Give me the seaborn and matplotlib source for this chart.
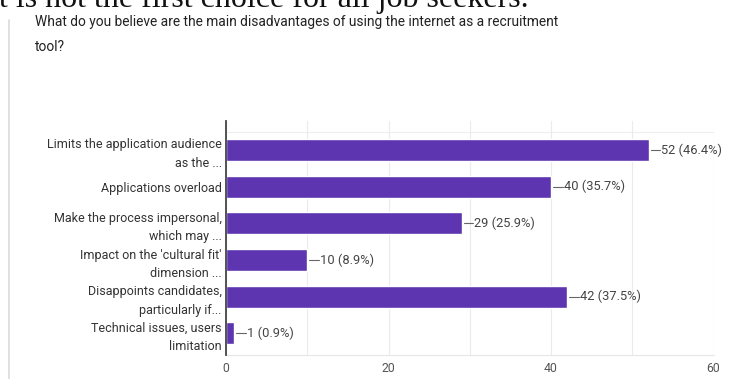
import matplotlib
matplotlib.use("Agg")
import matplotlib.pyplot as plt
import seaborn as sns
import pandas as pd

# Survey answers and their counts
categories = [
    "Limits the application audience\nas the ...",
    "Applications overload",
    "Make the process impersonal,\nwhich may ...",
    "Impact on the 'cultural fit'\ndimension ...",
    "Disappoints candidates,\nparticularly if...",
    "Technical issues, users\nlimitation",
]
counts = [52, 40, 29, 10, 42, 1]
percents = [46.4, 35.7, 25.9, 8.9, 37.5, 0.9]
x_ticks = [0, 20, 40, 60]

question = ("What do you believe are the main disadvantages of using the internet as a recruitment\n"
            "tool?")
heading = "t is not the first choice for all job seekers."

sns.set_theme(style="white")
plt.rcParams["font.family"] = ["Roboto", "DejaVu Sans"]

df = pd.DataFrame({"answer": categories, "count": counts})

fig = plt.figure(figsize=(7.29, 3.79), dpi=100)
fig.patch.set_facecolor("white")

# Heading of the page, partly cut at the top edge
fig.text(-0.002, 1 - 7 / 379, heading, family=["Liberation Serif", "DejaVu Serif"],
         fontsize=23, color="#111111", ha="left", va="baseline")

# Card border on the left
fig.add_artist(plt.Line2D([9 / 729, 9 / 729], [0, 1 - 20 / 379], color="#dadada", lw=1.2))

fig.text(35 / 729, 1 - 15 / 379, question, fontsize=9.9, color="#222222",
         ha="left", va="top", linespacing=2.0)

ax = fig.add_axes([226 / 729, 1 - 355 / 379, (713.5 - 226) / 729, (355 - 121) / 379])
sns.barplot(data=df, x="count", y="answer", orient="h", color="#5e35b1",
            width=0.6, saturation=1, ax=ax, zorder=3)

ax.set_xlim(0, 60)
ax.set_xticks(x_ticks)
ax.set_xticks(range(0, 61, 10), minor=True)
ax.grid(axis="x", which="both", color="#ebebeb", lw=0.8, zorder=0)
ax.set_axisbelow(True)
ax.set_xlabel("")
ax.set_ylabel("")
ax.tick_params(axis="both", length=0)
ax.tick_params(axis="x", labelsize=8.8, labelcolor="#555555", pad=5)
ax.tick_params(axis="y", labelsize=9, labelcolor="#333333", pad=3)
for lbl in ax.get_yticklabels():
    lbl.set_linespacing(1.55)

for side in ("top", "right"):
    ax.spines[side].set_visible(False)
ax.spines["bottom"].set_color("#e6e6e6")
ax.spines["bottom"].set_linewidth(0.8)
ax.spines["left"].set_color("#444444")
ax.spines["left"].set_linewidth(1.3)
ax.spines["left"].set_zorder(4)
ax.axhline(-0.5, color="#eeeeee", lw=0.8, zorder=0)

# Value labels with a short leader line
for i, (c, p) in enumerate(zip(counts, percents)):
    ax.plot([c + 0.25, c + 1.45], [i, i], color="#666666", lw=0.8, zorder=4,
            clip_on=False)
    ax.text(c + 1.55, i, f"{c} ({p}%)", fontsize=9.3, color="#444444",
            ha="left", va="center", clip_on=False)

fig.savefig("out.png", dpi=100, facecolor="white")
